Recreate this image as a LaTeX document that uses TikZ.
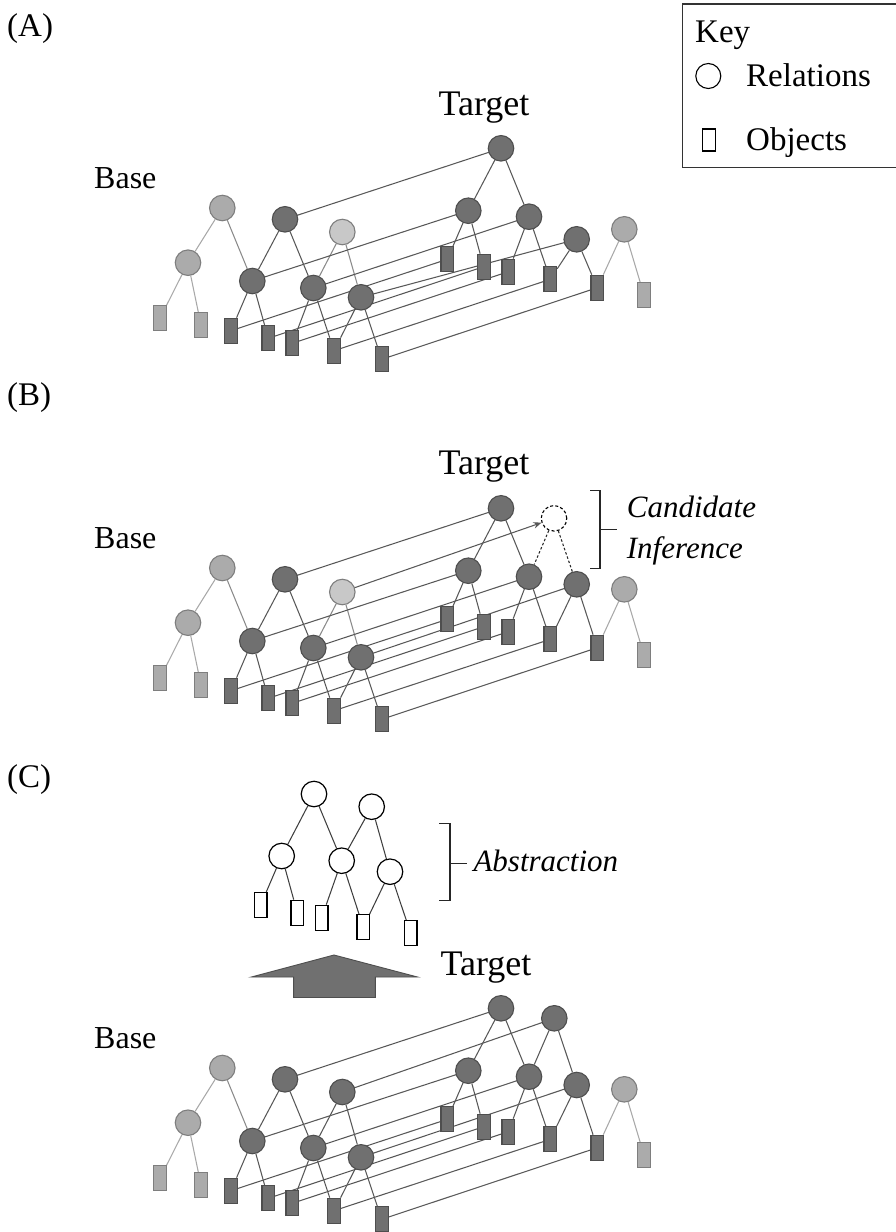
\documentclass[tikz,border=0pt]{standalone}
\usepackage{fontspec}
\setmainfont{Liberation Serif}
\usetikzlibrary{arrows.meta}
\pgfdeclarelayer{bg}
\pgfsetlayers{bg,main}
\definecolor{dkfill}{HTML}{707070}
\definecolor{dkline}{HTML}{4E4E4E}
\definecolor{ltfill}{HTML}{ABABAB}
\definecolor{ltfillb}{HTML}{C8C8C8}
\definecolor{ltline}{HTML}{7E7E7E}
\definecolor{edgedk}{HTML}{585858}
\definecolor{edgemd}{HTML}{8A8A8A}
\definecolor{edgelt}{HTML}{A8A8A8}
\tikzset{
  dk/.style={circle, draw=dkline, fill=dkfill, minimum size=25.5pt, inner sep=0pt, line width=1.1pt},
  lt/.style={circle, draw=ltline, fill=ltfill, minimum size=25.5pt, inner sep=0pt, line width=1.1pt},
  ltb/.style={circle, draw=ltline, fill=ltfillb, minimum size=25.5pt, inner sep=0pt, line width=1.1pt},
  dkr/.style={rectangle, draw=dkline, fill=dkfill, minimum width=12.7pt, minimum height=25pt, inner sep=0pt, line width=1.1pt},
  ltr/.style={rectangle, draw=ltline, fill=ltfill, minimum width=12.7pt, minimum height=25pt, inner sep=0pt, line width=1.1pt},
  abc/.style={circle, draw=black, fill=white, minimum size=25.5pt, inner sep=0pt, line width=1.2pt},
  abr/.style={rectangle, draw=black, fill=white, minimum width=12.7pt, minimum height=25pt, inner sep=0pt, line width=1.2pt},
  dcirc/.style={circle, draw=black, dash pattern=on 3pt off 2.2pt, minimum size=25.5pt, inner sep=0pt, line width=1.1pt},
  edk/.style={draw=edgedk, line width=1.05pt},
  emd/.style={draw=edgemd, line width=1.05pt},
  elt/.style={draw=edgelt, line width=1.05pt},
  eab/.style={draw=black!75, line width=1.05pt},
  edash/.style={draw=black!85, line width=1.05pt, dash pattern=on 2.5pt off 2pt},
  txt/.style={inner sep=0pt, anchor=base west, font=\fontsize{32}{36}\selectfont},
  ttl/.style={inner sep=0pt, anchor=base west, font=\fontsize{33}{36}\selectfont},
  tgt/.style={inner sep=0pt, anchor=base, font=\fontsize{36}{40}\selectfont},
  itx/.style={inner sep=0pt, anchor=base west, font=\fontsize{31}{34}\selectfont\itshape},
  keyt/.style={inner sep=0pt, anchor=base west, font=\fontsize{33}{36}\selectfont},
  brk/.style={draw=black!85, line width=1.3pt},
}
% #1 prefix, #2 yshift, #3 T4 y, #4 L3 node style, #5 L3 edge style
\newcommand\drawpanel[5]{%
\begin{scope}[yshift=#2]
\node[lt]  (#1L1) at (222.3,208) {};
\node[lt]  (#1L2) at (188,262.7) {};
\node[dk]  (#1D1) at (285,219.3) {};
\node[#4]  (#1L3) at (342.3,232) {};
\node[dk]  (#1D2) at (252.3,281) {};
\node[dk]  (#1D3) at (313.3,288) {};
\node[dk]  (#1D4) at (361,297.3) {};
\node[dk]  (#1T1) at (501,148.3) {};
\node[dk]  (#1T2) at (468.3,210.7) {};
\node[dk]  (#1T3) at (529,216.7) {};
\node[dk]  (#1T4) at (576.7,#3) {};
\node[lt]  (#1L4) at (624.3,229.3) {};
\node[ltr] (#1Lr1) at (160,318.3) {};
\node[ltr] (#1Lr2) at (201,325) {};
\node[dkr] (#1Dr1) at (231,330.7) {};
\node[dkr] (#1Dr2) at (268.3,338.3) {};
\node[dkr] (#1Dr3) at (292.3,343.3) {};
\node[dkr] (#1Dr4) at (334,350.7) {};
\node[dkr] (#1Dr5) at (381.7,359.3) {};
\node[dkr] (#1Tr1) at (447.3,259.3) {};
\node[dkr] (#1Tr2) at (483.7,266.7) {};
\node[dkr] (#1Tr3) at (508.3,271.7) {};
\node[dkr] (#1Tr4) at (550.3,279.3) {};
\node[dkr] (#1Tr5) at (597.3,287.7) {};
\node[ltr] (#1Lr3) at (644,295) {};
\begin{pgfonlayer}{bg}
\draw[elt] (#1L1) -- (#1L2);
\draw[emd] (#1L1) -- (#1D2);
\draw[elt] (#1L2) -- (#1Lr1);
\draw[elt] (#1L2) -- (#1Lr2);
\draw[edk] (#1D1) -- (#1D2);
\draw[edk] (#1D1) -- (#1D3);
\draw[#5] (#1L3) -- (#1D3);
\draw[#5] (#1L3) -- (#1D4);
\draw[edk] (#1D2) -- (#1Dr1);
\draw[edk] (#1D2) -- (#1Dr2);
\draw[edk] (#1D3) -- (#1Dr3);
\draw[edk] (#1D3) -- (#1Dr4);
\draw[edk] (#1D4) -- (#1Dr4);
\draw[edk] (#1D4) -- (#1Dr5);
\draw[edk] (#1T1) -- (#1T2);
\draw[edk] (#1T1) -- (#1T3);
\draw[edk] (#1T2) -- (#1Tr1);
\draw[edk] (#1T2) -- (#1Tr2);
\draw[edk] (#1T3) -- (#1Tr3);
\draw[edk] (#1T3) -- (#1Tr4);
\draw[edk] (#1T4) -- (#1Tr4);
\draw[edk] (#1T4) -- (#1Tr5);
\draw[elt] (#1L4) -- (#1Tr5);
\draw[elt] (#1L4) -- (#1Lr3);
\draw[edk] (#1D1.center) -- (#1T1.center);
\draw[edk] (#1D2.center) -- (#1T2.center);
\draw[edk] (#1D3.center) -- (#1T3.center);
\draw[edk] (#1D4.center) -- (#1T4.center);
\draw[edk] (#1Dr1.center) -- (#1Tr1.center);
\draw[edk] (#1Dr2.center) -- (#1Tr2.center);
\draw[edk] (#1Dr3.center) -- (#1Tr3.center);
\draw[edk] (#1Dr4.center) -- (#1Tr4.center);
\draw[edk] (#1Dr5.center) -- (#1Tr5.center);
\end{pgfonlayer}
\end{scope}}
\begin{document}
\begin{tikzpicture}[x=1pt,y=-1pt]
\useasboundingbox (0,0) rectangle (895,1232);
\begin{pgfonlayer}{bg}
\fill[white] (0,0) rectangle (895,1232);
\end{pgfonlayer}

% ---------- Key ----------
\draw[line width=1.3pt, draw=black!80] (682.3,4) rectangle (900,167.7);
\node[keyt] (keyK) at (695,42.7) {Key};
\node[circle, draw=black, minimum size=25pt, inner sep=0pt, line width=1.1pt] (keyC) at (708.3,76) {};
\node[keyt] (keyRel) at (746,86.7) {Relations};
\node[rectangle, draw=black, minimum width=13pt, minimum height=22pt, inner sep=0pt, line width=1.1pt] (keyR) at (709.3,140) {};
\node[keyt] (keyObj) at (746,150) {Objects};

% ---------- Panel A ----------
\node[ttl] (labA) at (7,36) {(A)};
\node[txt] (baseA) at (94,188.3) {Base};
\node[tgt] (tgtA) at (484,115) {Target};
\drawpanel{a}{0pt}{239.3}{ltb}{emd}

% ---------- Panel B ----------
\node[ttl] (labB) at (7,405) {(B)};
\node[txt] (baseB) at (94,548.3) {Base};
\node[tgt] (tgtB) at (484,474.5) {Target};
\drawpanel{b}{-360pt}{224.3}{ltb}{emd}
\node[dcirc] (bDC) at (554,518.3) {};
\begin{pgfonlayer}{bg}
\draw[edk, -{Stealth[length=8pt,width=6.5pt]}] (bL3.center) -- (bDC);
\draw[edash] (bDC) -- (bT3);
\draw[edash] (bDC) -- (bT4);
\end{pgfonlayer}
\draw[brk] (590,490.7) -- (600,490.7) -- (600,568.3) -- (590,568.3);
\draw[brk] (600,529.3) -- (616.7,529.3);
\node[itx] (candA) at (626.7,517.3) {Candidate};
\node[itx] (candB) at (626.7,558.3) {Inference};

% ---------- Panel C ----------
\node[ttl] (labC) at (7,787) {(C)};
\node[txt] (baseC) at (94,1048.3) {Base};
\node[tgt] (tgtC) at (486,975) {Target};
\drawpanel{c}{-860pt}{225}{dk}{edk}
\node[dk] (cT5) at (554.3,1018.3) {};
\begin{pgfonlayer}{bg}
\draw[edk] (cT5) -- (cT3);
\draw[edk] (cT5) -- (cT4);
\draw[edk] (cL3.center) -- (cT5.center);
\end{pgfonlayer}

% abstraction
\node[abc] (A1) at (314,794) {};
\node[abc] (A2) at (371.7,806.7) {};
\node[abc] (A3) at (281.7,856) {};
\node[abc] (A4) at (341.7,860.7) {};
\node[abc] (A5) at (390,871.7) {};
\node[abr] (R1) at (260.7,905) {};
\node[abr] (R2) at (297.3,912.7) {};
\node[abr] (R3) at (321.7,917.7) {};
\node[abr] (R4) at (363.3,927.3) {};
\node[abr] (R5) at (410.7,933.3) {};
\begin{pgfonlayer}{bg}
\draw[eab] (A1) -- (A3);
\draw[eab] (A1) -- (A4);
\draw[eab] (A2) -- (A4);
\draw[eab] (A2) -- (A5);
\draw[eab] (A3) -- (R1);
\draw[eab] (A3) -- (R2);
\draw[eab] (A4) -- (R3);
\draw[eab] (A4) -- (R4);
\draw[eab] (A5) -- (R4);
\draw[eab] (A5) -- (R5);
\end{pgfonlayer}
\draw[brk] (439.3,823.3) -- (450,823.3) -- (450,900.7) -- (439.3,900.7);
\draw[brk] (450,863.3) -- (466.7,863.3);
\node[itx] (abst) at (473.3,871.7) {Abstraction};

% block arrow
\draw[fill=dkfill, draw=dkline, line width=0.9pt, line join=miter]
  (334,955) -- (417.5,977) -- (375.4,977) -- (375.4,997.5) -- (293.6,997.5)
  -- (293.6,977) -- (251.4,977) -- cycle;
\end{tikzpicture}
\end{document}
